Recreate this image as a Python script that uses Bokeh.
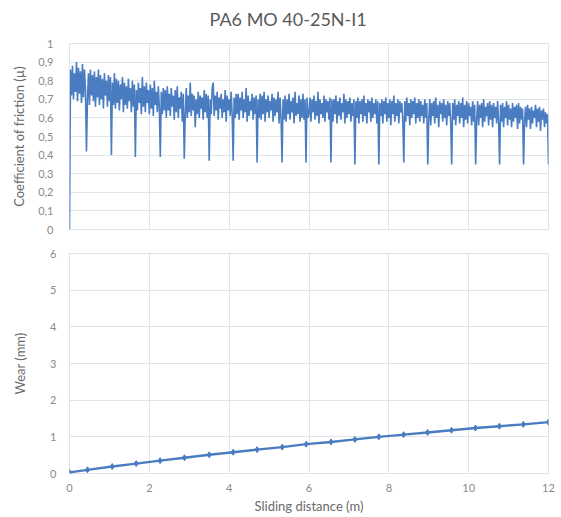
import numpy as np
from bokeh.plotting import figure
from bokeh.layouts import column
from bokeh.models import FixedTicker, Range1d, Title
from bokeh.embed import file_html
from bokeh.resources import INLINE

title_text = "PA6 MO 40-25N-I1"
cof_label = "Coefficient of friction (µ)"
wear_label = "Wear (mm)"
dist_label = "Sliding distance (m)"

# coefficient of friction, in hundredths, one value every 0.025 m
cof_step_m = 0.025
cof_pct = [
    0, 86, 72, 88, 70, 84, 74, 90, 69, 87, 73, 85, 68, 89, 71, 86, 75, 42, 70, 84, 67, 86, 72, 83,
    69, 85, 66, 82, 71, 86, 67, 83, 70, 81, 65, 84, 72, 80, 66, 83, 69, 82, 40, 79, 67, 84, 65, 81,
    68, 80, 64, 78, 70, 82, 63, 79, 67, 77, 65, 81, 69, 76, 63, 80, 66, 78, 39, 75, 64, 79, 68, 76,
    62, 82, 66, 77, 63, 79, 68, 75, 62, 78, 65, 76, 61, 80, 67, 74, 63, 77, 66, 39, 74, 62, 76, 64,
    75, 60, 77, 64, 73, 61, 76, 66, 72, 59, 75, 63, 77, 60, 71, 65, 74, 58, 73, 38, 62, 76, 60, 72,
    63, 79, 61, 73, 64, 72, 55, 70, 62, 74, 60, 72, 65, 71, 59, 75, 63, 73, 60, 72, 37, 70, 62, 76,
    79, 61, 72, 64, 74, 59, 71, 65, 73, 60, 70, 63, 75, 58, 72, 64, 70, 61, 74, 62, 37, 71, 60, 73,
    62, 73, 59, 71, 64, 74, 60, 70, 63, 76, 58, 72, 61, 69, 64, 73, 59, 71, 62, 72, 36, 70, 60, 73,
    59, 72, 62, 74, 58, 70, 63, 72, 60, 69, 64, 73, 58, 71, 61, 70, 63, 74, 57, 71, 60, 36, 70, 59,
    72, 58, 70, 62, 73, 59, 69, 63, 71, 57, 74, 61, 68, 62, 72, 58, 70, 60, 73, 59, 70, 36, 71, 60,
    62, 71, 58, 70, 63, 72, 59, 69, 61, 74, 57, 70, 62, 68, 60, 72, 58, 70, 63, 69, 59, 71, 36, 70,
    58, 70, 62, 72, 57, 69, 61, 71, 59, 68, 63, 73, 57, 70, 60, 69, 62, 71, 58, 68, 61, 70, 35, 69,
    60, 71, 57, 69, 62, 70, 58, 72, 61, 68, 57, 70, 63, 69, 58, 71, 60, 68, 62, 70, 57, 69, 35, 68,
    61, 70, 57, 69, 62, 71, 58, 68, 60, 70, 56, 69, 62, 72, 58, 68, 61, 70, 57, 69, 63, 68, 59, 36,
    69, 58, 71, 61, 68, 56, 70, 60, 69, 62, 71, 57, 68, 60, 70, 58, 69, 61, 67, 57, 70, 60, 68, 35,
    59, 70, 56, 68, 61, 69, 57, 71, 60, 67, 55, 69, 62, 68, 58, 70, 60, 67, 56, 69, 61, 68, 58, 35,
    68, 59, 70, 56, 67, 61, 69, 57, 68, 60, 71, 55, 67, 59, 69, 57, 68, 61, 66, 56, 69, 58, 67, 35,
    59, 69, 56, 67, 60, 68, 55, 70, 58, 66, 61, 68, 56, 69, 59, 67, 55, 68, 60, 66, 57, 69, 58, 35,
    67, 58, 68, 55, 66, 60, 69, 56, 67, 59, 65, 55, 68, 58, 66, 60, 67, 54, 68, 57, 66, 59, 65, 35,
    58, 66, 55, 67, 59, 65, 54, 66, 57, 64, 60, 67, 55, 65, 58, 66, 53, 64, 59, 65, 55, 63, 57, 62,
    35,
]

wear_x = [0.0, 0.45, 1.07, 1.67, 2.27, 2.88, 3.5, 4.1, 4.7, 5.33, 5.93,
          6.55, 7.15, 7.75, 8.37, 8.97, 9.57, 10.17, 10.77, 11.37, 12.0]
wear_mm = [0.03, 0.10, 0.19, 0.27, 0.35, 0.43, 0.51, 0.58, 0.65, 0.72, 0.80,
           0.86, 0.93, 1.00, 1.06, 1.12, 1.18, 1.24, 1.29, 1.34, 1.40]

cof_ticks = [0, 0.1, 0.2, 0.3, 0.4, 0.5, 0.6, 0.7, 0.8, 0.9, 1.0]
cof_tick_labels = ["0", "0,1", "0,2", "0,3", "0,4", "0,5", "0,6", "0,7", "0,8", "0,9", "1"]
wear_ticks = [0, 1, 2, 3, 4, 5, 6]
dist_ticks = [0, 2, 4, 6, 8, 10, 12]

cof_x = np.arange(len(cof_pct)) * cof_step_m
cof = np.array(cof_pct) / 100.0

BLUE = "#4a7cc1"
GRID = "#dde4ec"
FONT = "Lato"
TICK_COL = "#8a8a8a"
LABEL_COL = "#6a6a6a"


def style(p):
    p.background_fill_color = "white"
    p.border_fill_color = "white"
    p.outline_line_color = GRID
    p.xgrid.grid_line_color = GRID
    p.ygrid.grid_line_color = GRID
    for ax in p.axis:
        ax.axis_line_color = None
        ax.major_tick_line_color = None
        ax.minor_tick_line_color = None
        ax.major_tick_out = 0
        ax.major_tick_in = 0
        ax.minor_tick_out = 0
        ax.minor_tick_in = 0
        ax.major_label_text_font = FONT
        ax.major_label_text_font_size = "11px"
        ax.major_label_text_color = TICK_COL
        ax.axis_label_text_font = FONT
        ax.axis_label_text_font_size = "13px"
        ax.axis_label_text_font_style = "normal"
        ax.axis_label_text_color = LABEL_COL


# top: friction
p1 = figure(width=561, height=241, x_range=Range1d(0, 12), y_range=Range1d(0, 1),
            output_backend="svg", toolbar_location=None,
            min_border_left=67, min_border_right=13, min_border_top=43, min_border_bottom=12)
p1.xaxis.visible = False
p1.xgrid.ticker = FixedTicker(ticks=dist_ticks)
p1.yaxis.ticker = FixedTicker(ticks=cof_ticks)
p1.yaxis.major_label_overrides = {t: l for t, l in zip(cof_ticks, cof_tick_labels)}
p1.yaxis.axis_label = cof_label
style(p1)
p1.yaxis.major_label_standoff = 16
p1.yaxis.axis_label_standoff = 8
p1.line(cof_x, cof, line_color=BLUE, line_width=1.6)

# gap between the frame and the chart title, then the title itself
p1.add_layout(Title(text=" ", text_font=FONT, text_font_size="10px", standoff=0), "above")
p1.add_layout(Title(text=title_text, align="left", offset=140, text_font=FONT,
                    text_font_size="18px", text_font_style="normal",
                    text_color="#595959", standoff=0), "above")

# bottom: wear
p2 = figure(width=561, height=276, x_range=Range1d(0, 12), y_range=Range1d(0, 6),
            output_backend="svg", toolbar_location=None,
            min_border_left=69, min_border_right=11, min_border_top=12, min_border_bottom=44)
p2.xaxis.ticker = FixedTicker(ticks=dist_ticks)
p2.yaxis.ticker = FixedTicker(ticks=wear_ticks)
p2.xaxis.axis_label = dist_label
p2.yaxis.axis_label = wear_label
style(p2)
p2.yaxis.major_label_standoff = 13
p2.yaxis.axis_label_standoff = 19
p2.xaxis.major_label_standoff = 10
p2.xaxis.axis_label_standoff = 3
p2.line(wear_x, wear_mm, line_color=BLUE, line_width=2.4)
p2.scatter(wear_x, wear_mm, marker="diamond", size=6, color=BLUE)

layout = column(p1, p2, spacing=0)
open("out.html", "w").write(file_html(layout, INLINE))
